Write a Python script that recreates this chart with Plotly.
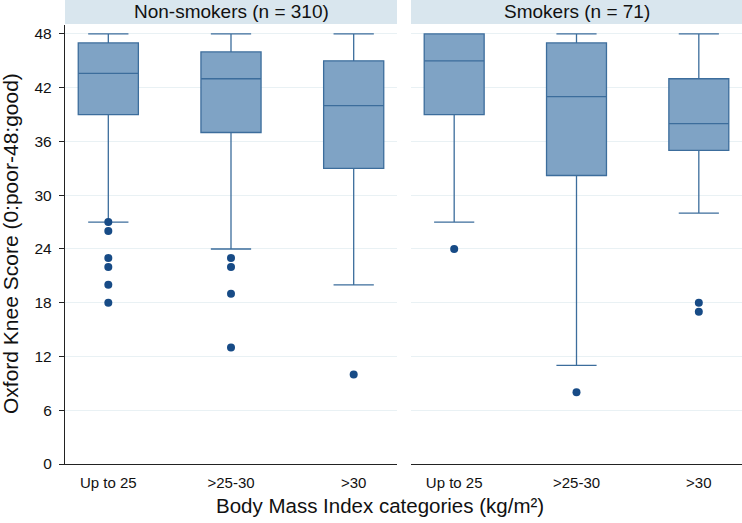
import plotly.graph_objects as go

categories = ["Up to 25", ">25-30", ">30"]
panels = ["Non-smokers (n = 310)", "Smokers (n = 71)"]

# Non-smokers box statistics
ns_lower = [27, 24, 20]
ns_q1 = [39, 37, 33]
ns_median = [43.6, 43, 40]
ns_q3 = [47, 46, 45]
ns_upper = [48, 48, 48]
ns_outliers = {
    "Up to 25": [27, 26, 23, 22, 20, 18],
    ">25-30": [23, 22, 19, 13],
    ">30": [10],
}

# Smokers box statistics
sm_lower = [27, 11, 28]
sm_q1 = [39, 32.2, 35]
sm_median = [45, 41, 38]
sm_q3 = [48, 47, 43]
sm_upper = [48, 48, 48]
sm_outliers = {
    "Up to 25": [24],
    ">25-30": [8],
    ">30": [18, 17],
}

yticks = [0, 6, 12, 18, 24, 30, 36, 42, 48]

FILL = "#7FA3C5"
LINE = "#3C6D9C"
DOT = "#174B86"
GRID = "#E9F1F4"
FONT = "Liberation Sans, Arial, sans-serif"

fig = go.Figure()

def add_panel(xa, ya, lower, q1, med, q3, upper, outl):
    fig.add_trace(go.Box(
        x=categories, q1=q1, median=med, q3=q3,
        lowerfence=lower, upperfence=upper,
        width=0.49, whiskerwidth=0.67,
        fillcolor=FILL, line=dict(color=LINE, width=1.3),
        boxpoints=False, xaxis=xa, yaxis=ya, showlegend=False,
        hoverinfo="skip",
    ))
    xs, ys = [], []
    for c in categories:
        for v in outl.get(c, []):
            xs.append(c)
            ys.append(v)
    fig.add_trace(go.Scatter(
        x=xs, y=ys, mode="markers",
        marker=dict(color=DOT, size=8, symbol="circle"),
        xaxis=xa, yaxis=ya, showlegend=False, hoverinfo="skip",
    ))

add_panel("x", "y", ns_lower, ns_q1, ns_median, ns_q3, ns_upper, ns_outliers)
add_panel("x2", "y2", sm_lower, sm_q1, sm_median, sm_q3, sm_upper, sm_outliers)

W, H = 742, 523
ml, mr, mt, mb = 65, 0, 25, 59
pw = W - ml - mr
ph = H - mt - mb
d1 = (0, (397 - ml) / pw)
d2 = ((411 - ml) / pw, 1)

xcommon = dict(
    type="category", categoryorder="array", categoryarray=categories,
    range=[-0.353, 2.353], showgrid=False, zeroline=False,
    showline=True, linecolor="#222222", linewidth=1.3,
    ticks="outside", ticklen=5, tickcolor="rgba(0,0,0,0)",
    tickfont=dict(family=FONT, size=15, color="#111111"),
)
ycommon = dict(
    range=[0, 49], tickvals=yticks, showgrid=True, gridcolor=GRID, gridwidth=1,
    zeroline=False,
)

fig.update_layout(
    width=W, height=H,
    margin=dict(l=ml, r=mr, t=mt, b=mb, autoexpand=False),
    paper_bgcolor="white", plot_bgcolor="white",
    font=dict(family=FONT, color="#111111"),
    xaxis=dict(domain=list(d1), anchor="y", **xcommon),
    xaxis2=dict(domain=list(d2), anchor="y2", **xcommon),
    yaxis=dict(anchor="x", showline=True, linecolor="#222222", linewidth=1.3,
               ticks="outside", ticklen=5, tickcolor="#222222",
               tickfont=dict(family=FONT, size=15.5, color="#111111"),
               ticklabelstandoff=4, **ycommon),
    yaxis2=dict(anchor="x2", matches="y", showline=False, showticklabels=False,
                ticks="", **ycommon),
)

# panel header strips
for dom, label in zip([d1, d2], panels):
    fig.add_shape(type="rect", xref="paper", yref="paper",
                  x0=dom[0], x1=dom[1], y0=1 + 1 / ph, y1=1 + 25 / ph,
                  fillcolor="#D9E6EE", line=dict(width=0), layer="below")
    fig.add_annotation(xref="paper", yref="paper", x=(dom[0] + dom[1]) / 2,
                       y=1 + 13 / ph, text=label, showarrow=False,
                       font=dict(family=FONT, size=19, color="#111111"),
                       xanchor="center", yanchor="middle")

# axis titles
fig.add_annotation(xref="paper", yref="paper", x=(380 - ml) / pw, y=-(505 - (mt + ph)) / ph,
                   text="Body Mass Index categories (kg/m²)", showarrow=False,
                   font=dict(family=FONT, size=20.5, color="#111111"),
                   xanchor="center", yanchor="middle")
fig.add_annotation(xref="paper", yref="paper", x=-(ml - 11) / pw, y=(H - mb - 244) / ph,
                   text="Oxford Knee Score (0:poor-48:good)", showarrow=False,
                   textangle=-90,
                   font=dict(family=FONT, size=21, color="#111111"),
                   xanchor="center", yanchor="middle")

fig.write_html("out.html", config={"displayModeBar": False},
               post_script="document.body.style.margin='0';document.body.style.overflow='hidden';")
